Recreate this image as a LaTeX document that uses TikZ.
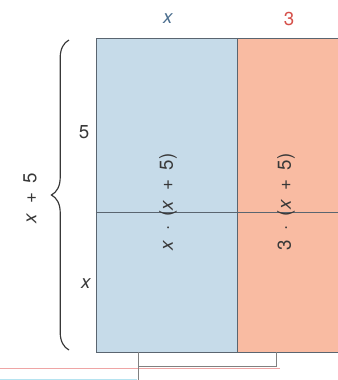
\documentclass[tikz,border=0pt]{standalone}
\usepackage{fontspec}
\setmainfont{TeX Gyre Heros}
\usepackage{xcolor}
\usetikzlibrary{decorations.pathreplacing,positioning}

\definecolor{areablue}{HTML}{C6DBE9}
\definecolor{areared}{HTML}{F9BBA2}
\definecolor{framegray}{HTML}{5A6570}
\definecolor{inkgray}{HTML}{383838}
\definecolor{xblue}{HTML}{4B6E8E}
\definecolor{threered}{HTML}{D5504A}
\definecolor{cutpink}{HTML}{EFA5A5}
\definecolor{cutcyan}{HTML}{B5E3F0}
\newcommand{\gap}{\hspace{0.5em}}

\begin{document}
\begin{tikzpicture}[x=0.03cm, y=-0.03cm,
        part/.style={draw=framegray, line width=0.7pt},
        lbl/.style={font=\fontsize{16}{18}\selectfont, inner sep=0pt, text=inkgray},
        inner/.style={lbl, rotate=90},
        cut/.style={line width=0.8pt},
    ]
        \useasboundingbox (0,0) rectangle (338,380);

        % the two areas
        \fill[areablue] (96,38) rectangle (237,352);
        \fill[areared]  (237,38) rectangle (338,352);
        \draw[part] (338,38) -- (96,38) -- (96,352) -- (338,352);
        \draw[part] (237,38) -- (237,352);
        \draw[part] (96,212) -- (338,212);

        % side lengths
        \node[lbl, text=xblue]    (topx)     at (168,19)  {\textit{x}};
        \node[lbl, text=threered] (topthree) at (289,19)  {3};
        \node[lbl]                (sidefive) at (84,132)  {5};
        \node[lbl]                (sidex)    at (86,284)  {\textit{x}};

        \draw[inkgray, line width=1pt, decorate, decoration={brace, amplitude=15}] (69,350) -- (69,40);
        \node[inner] (height) at (30,198) {\textit{x}\gap+\gap5};

        % area terms
        \node[inner] (blueterm) at (168,202) {\textit{x}\gap·\gap(\textit{x}\gap+\gap5)};
        \node[inner] (redterm)  at (286,202) {3\gap·\gap(\textit{x}\gap+\gap5)};

        % rest of the figure below, cut off
        \coordinate (cl) at (138,352);
        \coordinate (cr) at (276,352);
        \draw[cut, draw=cutpink] (0,368) -- (280,368);
        \draw[cut, draw=cutcyan] (0,379) -- (137,379);
        \draw[cut, draw=gray] (cl) -- ++(0,28);
        \draw[cut, draw=gray] (cl) ++(0,14) -| (cr);
\end{tikzpicture}
\end{document}
